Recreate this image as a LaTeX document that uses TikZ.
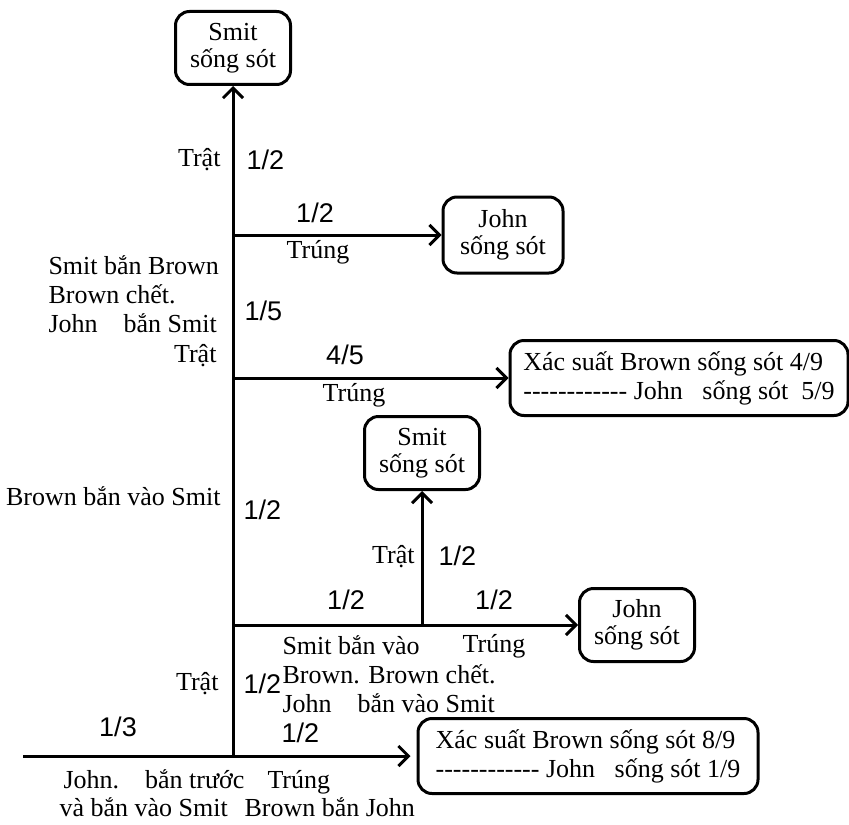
\documentclass[tikz,border=0pt]{standalone}
\usepackage{fontspec}
\setmainfont{Liberation Serif}
\newfontfamily\numfont{Liberation Sans}
\usetikzlibrary{arrows.meta}
\newcommand{\dashrow}{-{}-{}-{}-{}-{}-{}-{}-{}-{}-{}-{}-}

\begin{document}
\begin{tikzpicture}[
    x=0.5pt, y=-0.5pt,
    line width=1.5pt,
    txt/.style={inner sep=0pt, font=\fontsize{13}{14.5}\selectfont},
    block/.style={txt, align=left},
    prob/.style={inner sep=0pt, font=\numfont\fontsize{13.5}{15}\selectfont},
    state/.style={draw, line width=1.5pt, rounded corners=7pt, align=center, inner sep=2pt, minimum width=57.5pt, minimum height=36.5pt, font=\fontsize{13}{13.5}\selectfont},
    result/.style={draw, line width=1.5pt, rounded corners=7pt, align=left, inner sep=2pt, minimum width=169pt, minimum height=37.5pt, font=\fontsize{13}{14.5}\selectfont},
    arrow/.style={-{Straight Barb[length=5pt, width=10pt]}, line width=1.5pt}
]
    \useasboundingbox (0,0) rectangle (849,824);

    % Junctions
    \coordinate (start) at (23,756);
    \coordinate (root) at (233,756);
    \coordinate (j1) at (233,235);
    \coordinate (j2) at (233,378);
    \coordinate (j3) at (233,625);
    \coordinate (j4) at (422,625);

    % End states
    \node[state] (smit1) at (233,48) {Smit\\sống sót};
    \node[state, minimum width=60pt, minimum height=38pt] (john1) at (503,235) {John\\sống sót};
    \node[result] (xs1) at (679,378) {Xác suất Brown sống sót 4/9\\\dashrow\ John\ \ \ sống sót\ \ 5/9};
    \node[state] (smit2) at (422,453) {Smit\\sống sót};
    \node[state] (john2) at (637,625) {John\\sống sót};
    \node[result, minimum width=170pt] (xs2) at (588,756) {Xác suất Brown sống sót 8/9\\\dashrow\ John\ \ \ sống sót 1/9};

    % Connectors
    \draw[arrow] (root) -- (smit1);
    \draw[arrow] (j1) -- (john1);
    \draw[arrow] (j2) -- (xs1);
    \draw[arrow] (j3) -- (john2);
    \draw[arrow] (j4) -- (smit2);
    \draw[arrow, shorten >=3pt] (start) -- (xs2);

    % Top branch
    \node[txt, anchor=base east] (trat1) at (222,166) {Trật};
    \node[prob, anchor=west] (p1) at (245,160) {1/2};
    \node[prob] (p2) at (315,213) {1/2};
    \node[txt, anchor=base] (trung1) at (318,258) {Trúng};

    % Smit shoots Brown
    \node[block, anchor=base west] (smitbrown) at (47,332) {Smit bắn Brown\\Brown chết.\\John\hspace{1em}bắn Smit};
    \node[prob, anchor=west] (p3) at (243,311) {1/5};
    \node[txt, anchor=base east] (trat2) at (218,362) {Trật};
    \node[prob] (p4) at (345,355) {4/5};
    \node[txt, anchor=base] (trung2) at (354,401) {Trúng};

    % Brown shoots Smit
    \node[txt, anchor=base east] (brownsmit) at (222,505) {Brown bắn vào Smit};
    \node[prob, anchor=west] (p5) at (242,510) {1/2};
    \node[txt, anchor=base east] (trat3) at (416,563) {Trật};
    \node[prob, anchor=west] (p6) at (437,556) {1/2};
    \node[prob] (p7) at (346,600) {1/2};
    \node[prob] (p8) at (494,600) {1/2};
    \node[txt, anchor=base] (trung3) at (494,652) {Trúng};
    \node[block, anchor=base west] (smitbrown2) at (281,712) {Smit bắn vào\\Brown. Brown chết.\\John\hspace{1em}bắn vào Smit};

    % John shoots first
    \node[txt, anchor=base east] (trat4) at (220,690) {Trật};
    \node[prob, anchor=west] (p9) at (242,684) {1/2};
    \node[prob] (p10) at (118,727) {1/3};
    \node[prob, anchor=west] (p11) at (280,733) {1/2};
    \node[txt, anchor=base west] (johnfirst) at (62,788) {John.\hspace{1em}bắn trước};
    \node[txt, anchor=base west] (johnsmit) at (58,816) {và bắn vào Smit};
    \node[txt, anchor=base west] (trung4) at (266,788) {Trúng};
    \node[txt, anchor=base west] (brownjohn) at (243,816) {Brown bắn John};
\end{tikzpicture}
\end{document}
